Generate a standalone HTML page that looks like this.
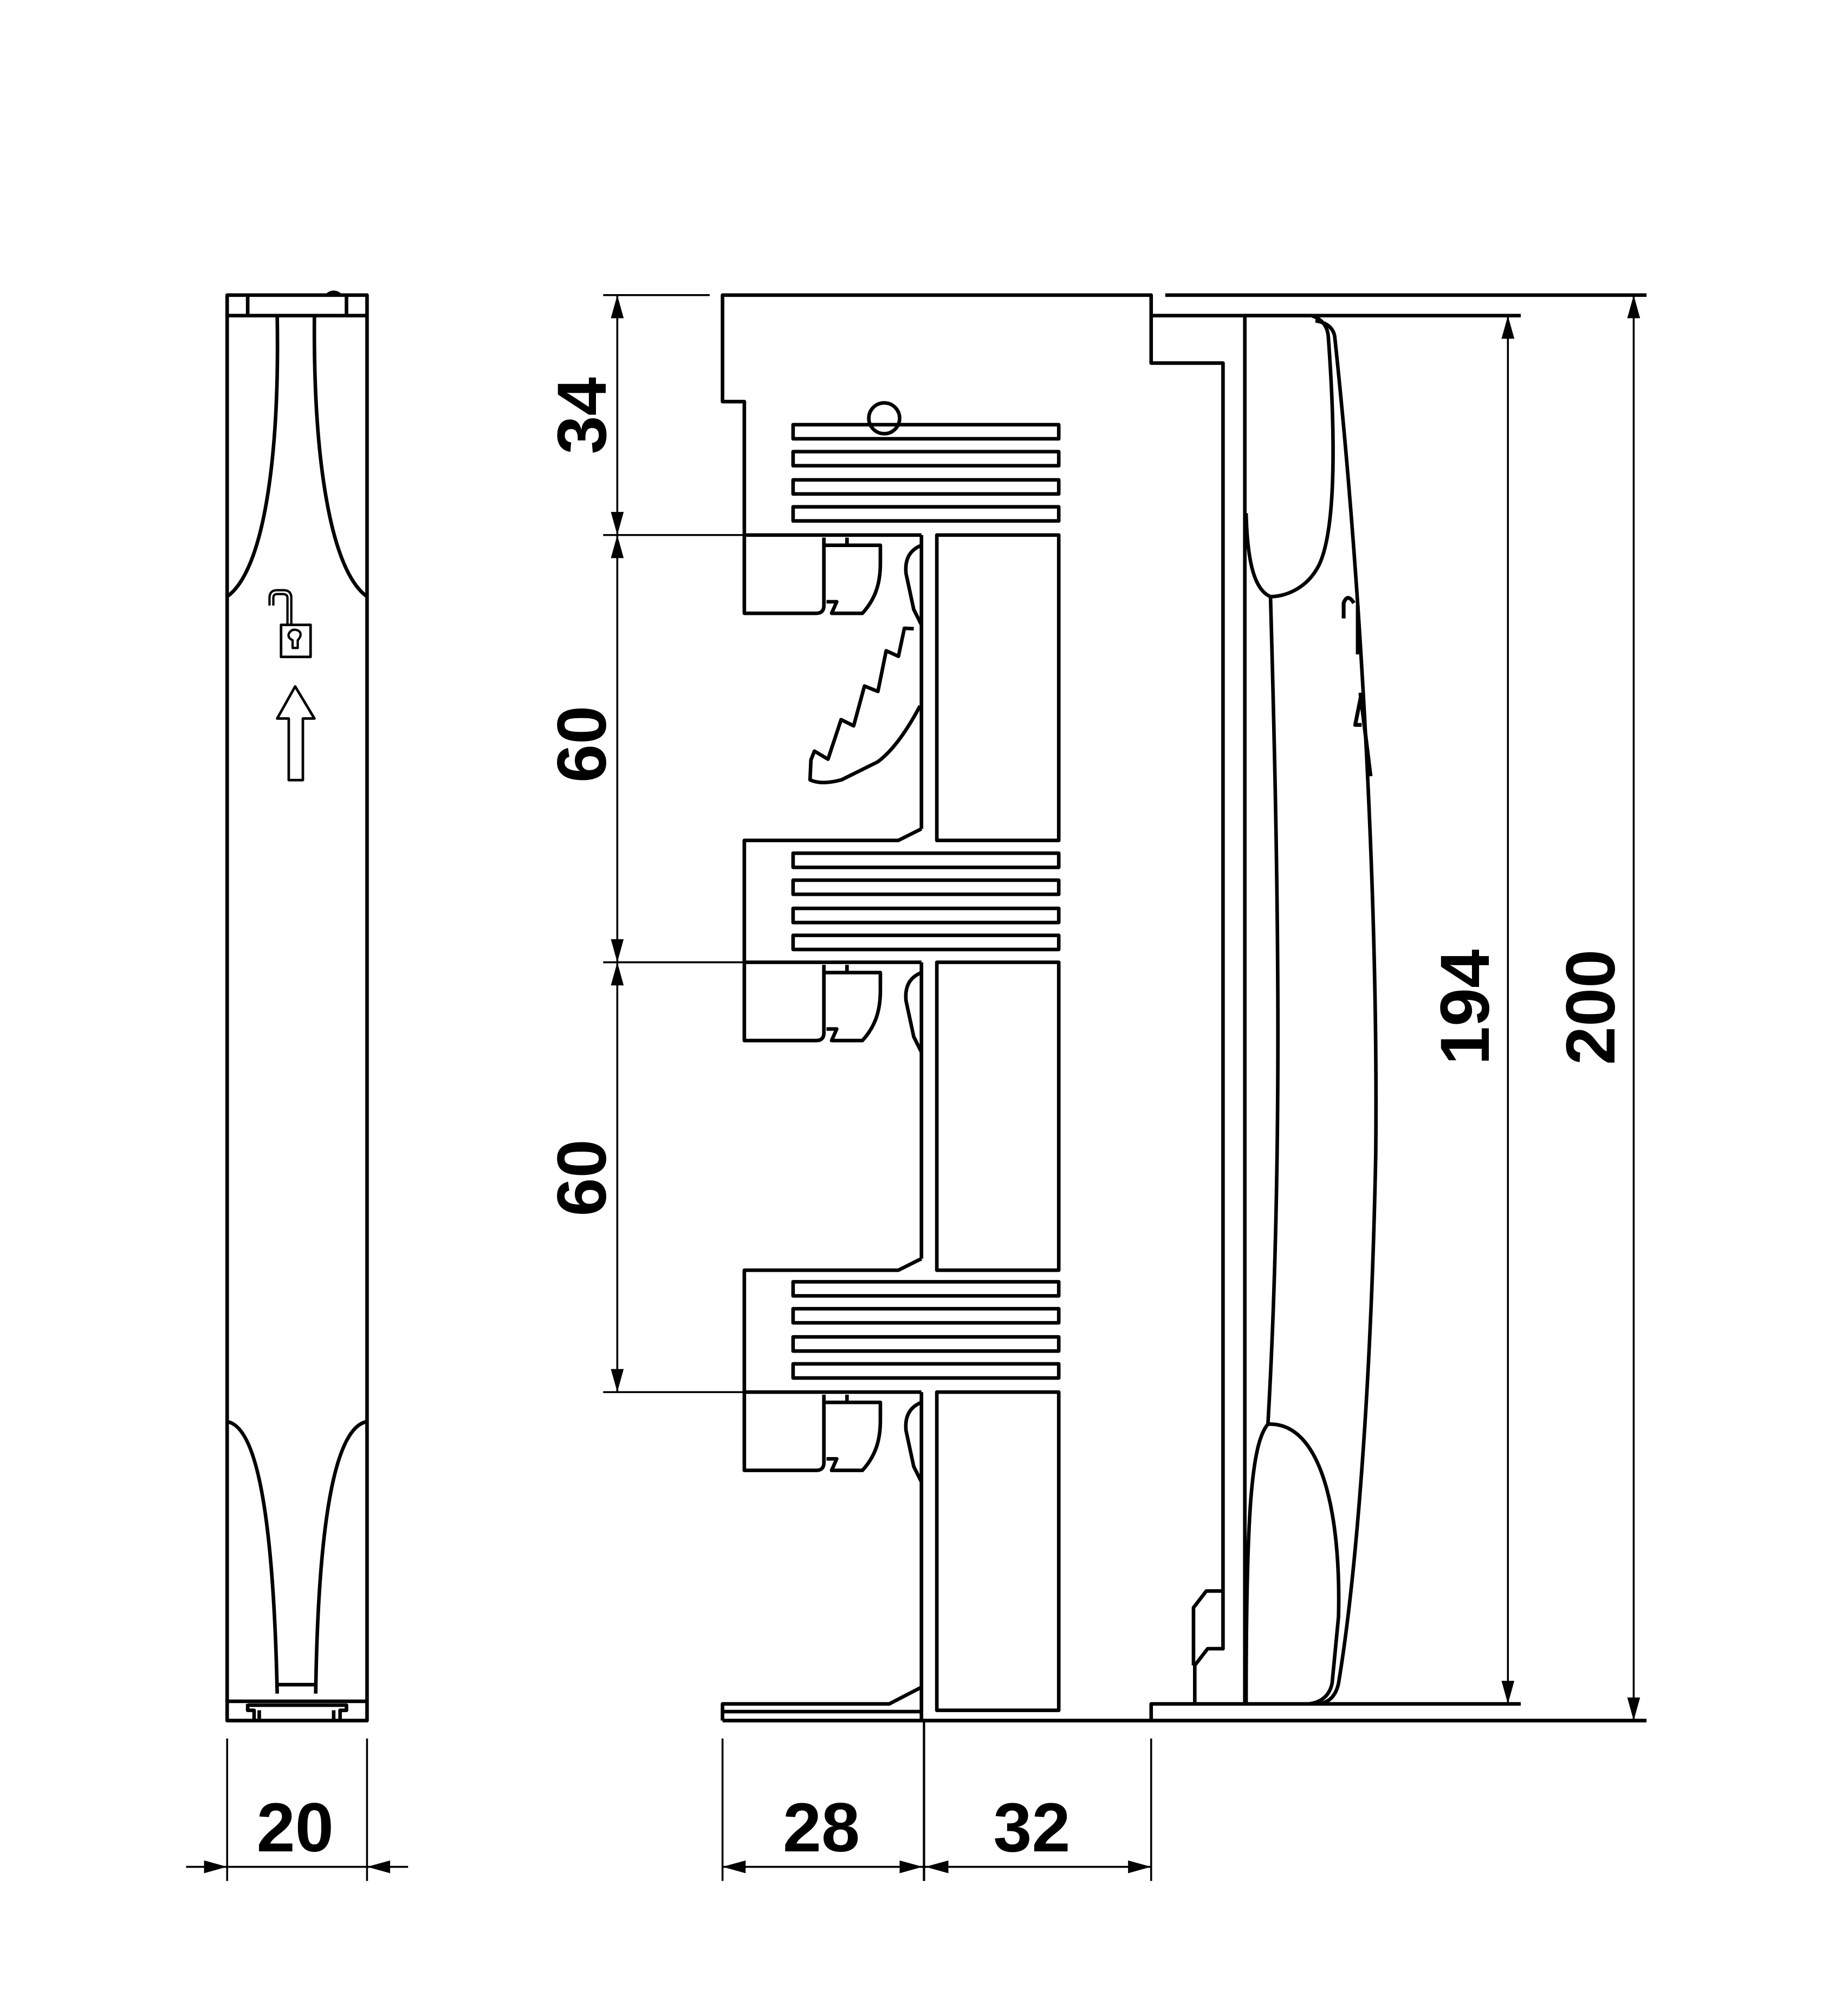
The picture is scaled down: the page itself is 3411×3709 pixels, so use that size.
<!DOCTYPE html>
<html><head><meta charset="utf-8"><style>html,body{margin:0;padding:0;background:#fff}svg{display:block}</style></head>
<body>
<svg width="3411" height="3709" viewBox="0 0 1440 1565.8" xmlns="http://www.w3.org/2000/svg">
<defs>
<g id="clip">
<path d="M580,0 V61 H636 Q642,61 642,55 V8 H686 V22 C686,38 682,50 672,61 H648 L652,52 H644" fill="none"/>
<path d="M580,0 H718 M642,8 V2 M660,2 V8" fill="none"/>
<path d="M718,8 C708,12 705,20 706,30 L712,58 L718,70" fill="none"/>
</g>
<g id="fins">
<rect x="618" y="0" width="207" height="11"/>
<rect x="618" y="21" width="207" height="11"/>
<rect x="618" y="43" width="207" height="11"/>
<rect x="618" y="64" width="207" height="11"/>
</g>
</defs>
<g fill="none" stroke="#000" stroke-width="2.8" stroke-linejoin="round">
<!-- LEFT VIEW -->
<rect x="177" y="230" width="109" height="1111"/>
<path d="M177,246 H286 M193,230 V246 M270,230 V246"/>
<path d="M216,246 C218,360 205,445 177,465"/>
<path d="M245,246 C244,360 258,445 286,465"/>
<path d="M177,1108 C200,1112 213,1180 216,1320"/>
<path d="M286,1108 C262,1112 248,1180 246,1320"/>
<path d="M216,1313 H246 M177,1326 H286"/>
<path d="M193,1328 V1333 H198 V1341 M202,1333 V1341 M193,1329 H270 V1333 H265 V1341 M260,1333 V1341"/>
<path d="M255,230 Q260,226 265,230" stroke-width="3"/>
<!-- lock -->
<rect x="219" y="487" width="23" height="25" stroke-width="2"/>
<path d="M210,472 V466 Q210,460 216,460 H221 Q227,460 227,466 V487 M213,472 V466 Q213,463 216,463 H220 Q224,463 224,466 V487" stroke-width="1.8"/>
<path d="M228,505 V499 Q224,497 225,494 Q227,490 231,491 Q235,492 234,496 Q233,498 232,499 V505 Z" stroke-width="1.8"/>
<!-- arrow -->
<path d="M230,535 L216,560 H225 V608 H236 V560 H245 Z" stroke-width="2"/>

<!-- MIDDLE VIEW -->
<path d="M580,417 V313 H563 V230 H897 V283 H953 V1240"/>
<circle cx="689" cy="326" r="12"/>
<use href="#fins" y="331"/>
<use href="#clip" y="417"/>
<use href="#clip" y="750"/>
<use href="#clip" y="1085"/>
<path d="M580,750 V655 H700 L718,646"/>
<use href="#fins" y="665"/>
<path d="M580,1085 V990 H700 L718,981"/>
<use href="#fins" y="999"/>
<rect x="730" y="417" width="95" height="238"/>
<rect x="730" y="750" width="95" height="240"/>
<rect x="730" y="1085" width="95" height="248"/>
<path d="M718,417 V646 M718,750 V981 M718,1085 V1341"/>
<!-- ratchet -->
<path d="M712,490 L704.7,489.7 L700.1,511.5 L690.5,507.2 L684.1,538.9 L673.6,534.7 L665.2,565.7 L655.4,560.9 L645.2,591.7 L634.6,585.4 L631.9,592.3 L631.2,607.8 Q640,612 655.7,607.8 L683.9,593.8 Q700,582 716.9,550.2"/>
<!-- foot -->
<path d="M563,1341 V1328 H693 L718,1315 M563,1334 H718"/>
<path d="M563,1341 H1283"/>
<path d="M897,1341 V1328 H1185"/>
<!-- right clip -->
<path d="M953,1240 V1285 H941 L931,1298 V1328 M953,1240 H940 L930,1253 V1298"/>

<!-- RIGHT VIEW -->
<path d="M897,246 H1185"/>
<path d="M908,230 H1283"/>
<path d="M970,246 V1328"/>
<path d="M970,246 H1022 Q1034,250 1035,262 C1040,330 1042,410 1028,440 C1018,460 1000,465 990,465 C978,460 972,440 971,400"/>
<path d="M1025,250 Q1038,252 1040,262 C1060,450 1074,700 1072,900 C1068,1100 1055,1240 1043,1312 Q1040,1326 1028,1328"/>
<path d="M990,465 C996,680 1000,900 988,1110"/>
<path d="M988,1110 C975,1125 971,1180 971,1328"/>
<path d="M988,1110 C1030,1108 1045,1180 1043,1260 L1038,1312 Q1035,1326 1020,1328"/>
<path d="M1055,470 Q1050,462 1047,470 V482 M1058,472 V510 M1061,540 L1056,565 H1061 M1060,540 L1068,605" stroke-width="3"/>
</g>
<g fill="none" stroke="#000" stroke-width="1.8">
<path d="M720,1341 V1466"/>
</g>

<!-- DIMENSIONS -->
<g fill="none" stroke="#000" stroke-width="1.5">
<path d="M470,230 H553 M470,417 H640 M470,750 H640 M470,1085 H640"/>
<path d="M481,230 V1085"/>
<path d="M1175,246 V1328 M1273,230 V1341"/>
<path d="M563,1355 V1466 M897,1355 V1466 M177,1355 V1466 M286,1355 V1466"/>
<path d="M563,1455 H897 M145,1455 H318"/>
</g>
<g fill="#000">
<path d="M481,230 l-5,18 h10z M481,417 l-5,-18 h10z M481,417 l-5,18 h10z M481,750 l-5,-18 h10z M481,750 l-5,18 h10z M481,1085 l-5,-18 h10z"/>
<path d="M1175,246 l-5,18 h10z M1175,1328 l-5,-18 h10z M1273,230 l-5,18 h10z M1273,1341 l-5,-18 h10z"/>
<path d="M563,1455 l18,-5 v10z M719,1455 l-18,-5 v10z M721,1455 l18,-5 v10z M897,1455 l-18,-5 v10z"/>
<path d="M177,1455 l-18,-5 v10z M286,1455 l18,-5 v10z"/>
</g>
<g font-family="Liberation Sans, sans-serif" font-weight="bold" font-size="54" text-anchor="middle" fill="#000">
<text x="230" y="1443">20</text>
<text x="640" y="1443">28</text>
<text x="804" y="1443">32</text>
<text transform="translate(472,324) rotate(-90)">34</text>
<text transform="translate(472,580) rotate(-90)">60</text>
<text transform="translate(472,918) rotate(-90)">60</text>
<text transform="translate(1160,785) rotate(-90)">194</text>
<text transform="translate(1258,785) rotate(-90)">200</text>
</g>
</svg>
</body></html>
